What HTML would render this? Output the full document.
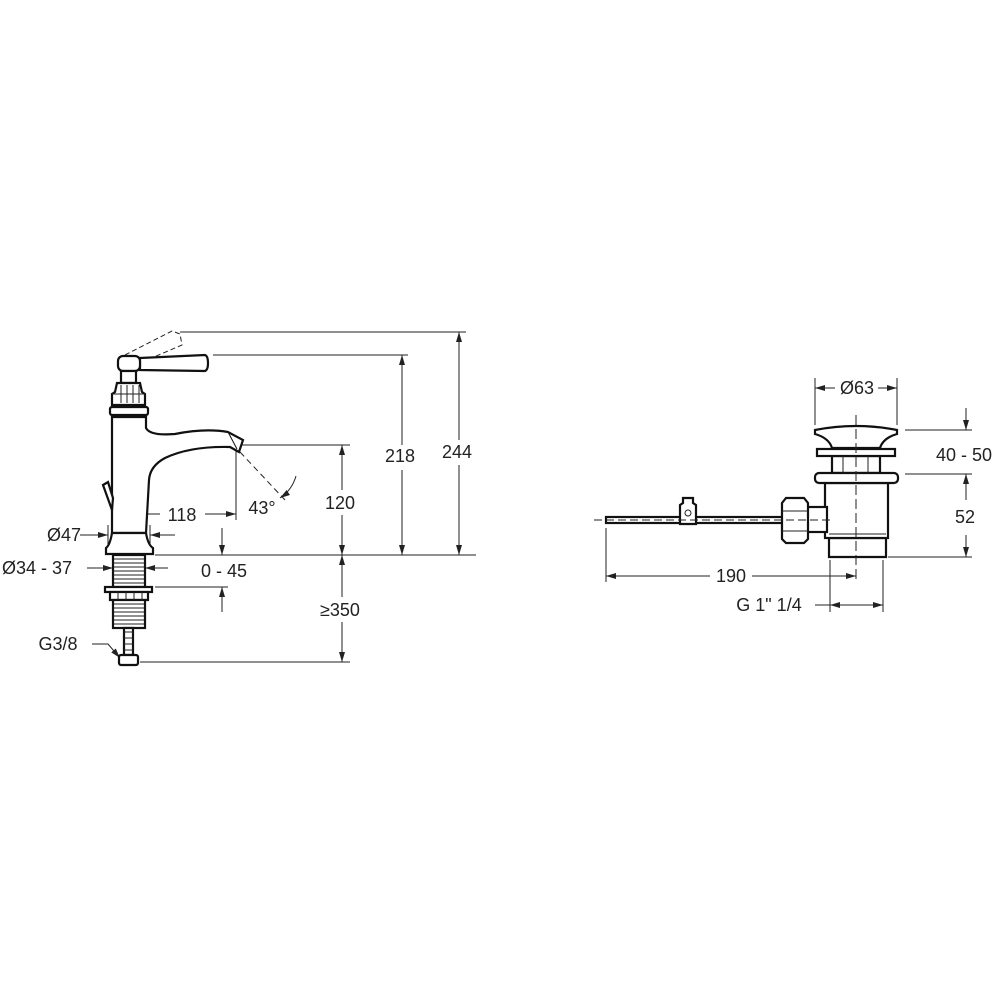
<!DOCTYPE html>
<html><head><meta charset="utf-8"><style>
html,body{margin:0;padding:0;background:#fff;}
svg{display:block}
text{font-family:"Liberation Sans",sans-serif;font-size:18px;fill:#222;}
</style></head><body>
<svg width="1000" height="1000" viewBox="0 0 1000 1000" xmlns="http://www.w3.org/2000/svg">
<defs>
<marker id="a" viewBox="0 0 10 6" refX="10" refY="3" markerWidth="10" markerHeight="6" orient="auto-start-reverse" markerUnits="userSpaceOnUse"><path d="M0,0 L10,3 L0,6 z" fill="#222"/></marker>
</defs>
<g stroke="#222" fill="none" stroke-width="1">
<line x1="180" y1="332" x2="466" y2="332"/>
<line x1="213" y1="355" x2="408" y2="355"/>
<line x1="155" y1="555" x2="476" y2="555"/>
<line x1="242" y1="445" x2="350" y2="445"/>
<line x1="140" y1="662" x2="350" y2="662"/>
<line x1="155" y1="587" x2="228" y2="587"/>
<line x1="459" y1="332" x2="459" y2="440" marker-start="url(#a)"/>
<line x1="459" y1="465" x2="459" y2="555" marker-end="url(#a)"/>
<line x1="402" y1="355" x2="402" y2="445" marker-start="url(#a)"/>
<line x1="402" y1="470" x2="402" y2="555" marker-end="url(#a)"/>
<line x1="342" y1="445" x2="342" y2="490" marker-start="url(#a)"/>
<line x1="342" y1="515" x2="342" y2="555" marker-end="url(#a)"/>
<line x1="342" y1="555" x2="342" y2="597" marker-start="url(#a)"/>
<line x1="342" y1="622" x2="342" y2="662" marker-end="url(#a)"/>
<line x1="130" y1="514" x2="160" y2="514" marker-start="url(#a)"/>
<line x1="205" y1="514" x2="236" y2="514" marker-end="url(#a)"/>
<line x1="236" y1="450" x2="236" y2="520"/>
<line x1="222" y1="528" x2="222" y2="555" marker-end="url(#a)"/>
<line x1="222" y1="612" x2="222" y2="587" marker-end="url(#a)"/>
<line x1="80" y1="535" x2="108" y2="535" marker-end="url(#a)"/>
<line x1="175" y1="535" x2="150" y2="535" marker-end="url(#a)"/>
<line x1="108" y1="525" x2="108" y2="548"/>
<line x1="150" y1="525" x2="150" y2="548"/>
<line x1="87" y1="568" x2="113" y2="568" marker-end="url(#a)"/>
<line x1="168" y1="568" x2="145" y2="568" marker-end="url(#a)"/>
<path d="M92,644 L108,644 L120,658" marker-end="url(#a)"/>
<line x1="128" y1="505" x2="128" y2="600" stroke-dasharray="10,4"/>
<line x1="240" y1="452" x2="285" y2="500" stroke-dasharray="6,4"/>
<path d="M296,476 Q292,490 280,498" marker-end="url(#a)"/>
<path d="M125,355 L172,331 L180,334 L182,345 L140,363" stroke-dasharray="5,3"/>
</g>
<g stroke="#111" fill="#fff" stroke-width="2.2">
<path d="M140,358 L205,355 Q208,356 208,363 Q208,370 205,371 L140,370 z"/>
<rect x="118" y="356" width="22" height="15" rx="5"/>
<rect x="121" y="371" width="15" height="12"/>
<path d="M117,383 L140,383 L142,392 L145,394 L145,405 L112,405 L112,394 L115,392 z"/>
<rect x="110" y="407" width="38" height="8" rx="2"/>
<path d="M112,417 L146,417 L146,428 Q150,436 175,434 Q205,428 228,432 L243,440 L239,452 L230,447 Q190,446 165,458 Q150,466 149,480 L146,533 L112,533 z"/>
<path d="M228,432 L237,449" stroke-width="1"/>
<path d="M103,485 L108,482 L113,498 L112,510 Z"/>
<path d="M112,533 L146,533 Q148,545 153,548 L153,554 L106,554 L106,548 Q110,545 112,533 z"/>
<rect x="113" y="555" width="32" height="32"/>
<rect x="105" y="587" width="47" height="5"/>
<rect x="110" y="592" width="38" height="8"/>
<rect x="113" y="600" width="32" height="28"/>
<rect x="124" y="628" width="9" height="27"/>
<rect x="119" y="655" width="19" height="10" rx="2"/>
</g>
<g stroke="#222" stroke-width="1">
<path d="M114,559H144M114,563H144M114,567H144M114,571H144M114,575H144M114,579H144M114,583H144M114,604H144M114,608H144M114,612H144M114,616H144M114,620H144M114,624H144"/>
<path d="M118,592V600M126,592V600M134,592V600M142,592V600M121,385V403M127,385V403M133,385V403M139,385V403"/>
<path d="M112,394H145M124,632H133M124,638H133M124,644H133M124,650H133"/>
</g>
<g stroke="#222" fill="none" stroke-width="1">
<line x1="815" y1="378" x2="815" y2="425"/>
<line x1="897" y1="378" x2="897" y2="425"/>
<line x1="835" y1="388" x2="815" y2="388" marker-end="url(#a)"/>
<line x1="878" y1="388" x2="897" y2="388" marker-end="url(#a)"/>
<line x1="905" y1="430" x2="972" y2="430"/>
<line x1="905" y1="474" x2="972" y2="474"/>
<line x1="888" y1="557" x2="972" y2="557"/>
<line x1="966" y1="408" x2="966" y2="430" marker-end="url(#a)"/>
<line x1="966" y1="500" x2="966" y2="474" marker-end="url(#a)"/>
<line x1="966" y1="535" x2="966" y2="557" marker-end="url(#a)"/>
<line x1="606" y1="528" x2="606" y2="582"/>
<line x1="830" y1="560" x2="830" y2="612"/>
<line x1="883" y1="560" x2="883" y2="612"/>
<line x1="606" y1="576" x2="710" y2="576" marker-start="url(#a)"/>
<line x1="752" y1="576" x2="856" y2="576" marker-end="url(#a)"/>
<line x1="815" y1="605" x2="830" y2="605"/>
<line x1="830" y1="605" x2="883" y2="605" marker-start="url(#a)" marker-end="url(#a)"/>
</g>
<g stroke="#111" fill="#fff" stroke-width="2.2">
<rect x="606" y="517" width="178" height="6"/>
<path d="M683,498 L693,498 L693,503 L696,505 L696,524 L680,524 L680,505 L683,503 z"/>
<path d="M829,538 L886,538 L886,557 L829,557 z"/>
<rect x="825" y="483" width="63" height="55"/>
<rect x="805" y="507" width="22" height="25"/>
<path d="M786,498 L804,498 L808,503 L808,539 L804,543 L786,543 L782,539 L782,503 z"/>
<path d="M832,456 L880,456 L880,473 L832,473 z"/>
<rect x="815" y="473" width="83" height="10" rx="4"/>
<rect x="817" y="449" width="78" height="7"/>
<path d="M815,430 Q856,422 897,430 L897,434 Q883,438 880,448 L832,448 Q829,438 815,434 z"/>
</g>
<g stroke="#222" fill="none" stroke-width="1">
<line x1="856" y1="415" x2="856" y2="582" stroke-dasharray="10,4"/>
<line x1="594" y1="520" x2="830" y2="520" stroke-dasharray="8,4"/>
<circle cx="688" cy="513" r="3"/>
<path d="M782,511H808M782,531H808M843,456V473M868,456V473M829,534H886"/>
</g>
<text x="457" y="458" text-anchor="middle">244</text>
<text x="400" y="462" text-anchor="middle">218</text>
<text x="340" y="509" text-anchor="middle">120</text>
<text x="340" y="616" text-anchor="middle">≥350</text>
<text x="182" y="521" text-anchor="middle">118</text>
<text x="262" y="514" text-anchor="middle">43°</text>
<text x="224" y="577" text-anchor="middle">0 - 45</text>
<text x="64" y="541" text-anchor="middle">Ø47</text>
<text x="2" y="574">Ø34 - 37</text>
<text x="58" y="650" text-anchor="middle">G3/8</text>
<text x="857" y="394" text-anchor="middle">Ø63</text>
<text x="964" y="461" text-anchor="middle">40 - 50</text>
<text x="965" y="523" text-anchor="middle">52</text>
<text x="731" y="582" text-anchor="middle">190</text>
<text x="769" y="611" text-anchor="middle">G 1" 1/4</text>
</svg>
</body></html>
